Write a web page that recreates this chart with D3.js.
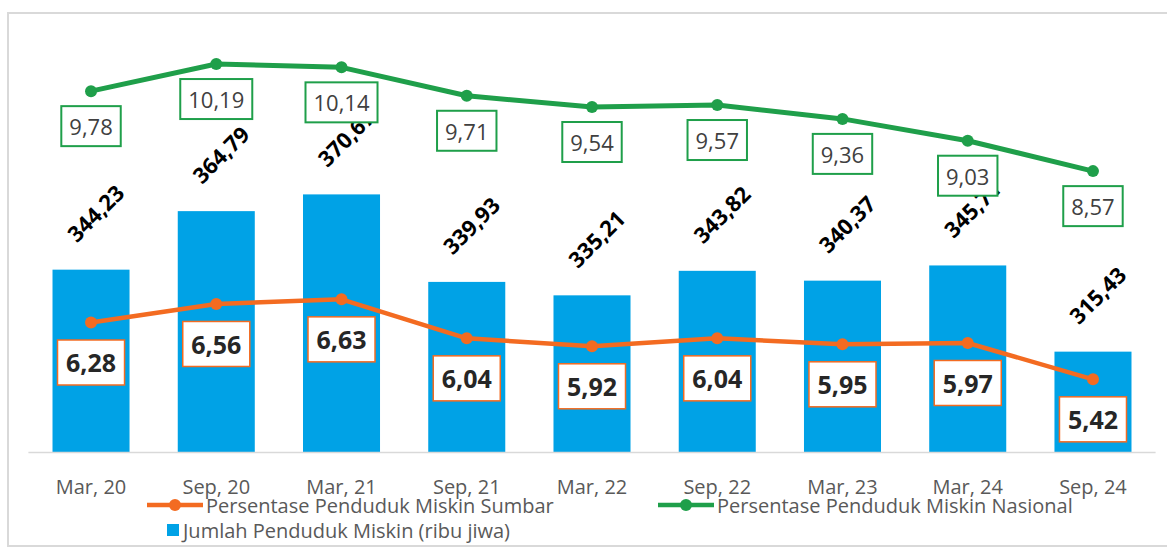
<!DOCTYPE html>
<html>
<head>
<meta charset="utf-8">
<script src="https://cdn.jsdelivr.net/npm/d3@7"></script>
<style>
    body { margin: 0; background: #fff; }
    svg { display: block; font-family: 'Open Sans', sans-serif; }
</style>
</head>
<body>
<div id="chart"></div>
<script>
var PERIODS = ['Mar, 20', 'Sep, 20', 'Mar, 21', 'Sep, 21', 'Mar, 22', 'Sep, 22', 'Mar, 23', 'Mar, 24', 'Sep, 24']
var JUMLAH = [344.23, 364.79, 370.67, 339.93, 335.21, 343.82, 340.37, 345.71, 315.43]
var SUMBAR = [6.28, 6.56, 6.63, 6.04, 5.92, 6.04, 5.95, 5.97, 5.42]
var NASIONAL = [9.78, 10.19, 10.14, 9.71, 9.54, 9.57, 9.36, 9.03, 8.57]
var LEGEND = ['Persentase Penduduk Miskin Sumbar', 'Persentase Penduduk Miskin Nasional', 'Jumlah Penduduk Miskin (ribu jiwa)']

var WIDTH = 1167
var HEIGHT = 551
var BLUE = '#00a2e6'
var ORANGE = '#f36b21'
var GREEN = '#1f9f4a'

var fmt = function (v) { return d3.format('.2f')(v).replace('.', ',') }

var svg = d3.select('#chart').append('svg')
    .attr('width', WIDTH)
    .attr('height', HEIGHT)

// frame
svg.append('rect')
    .attr('x', 8).attr('y', 13)
    .attr('width', WIDTH).attr('height', 533)
    .attr('fill', 'none')
    .attr('stroke', '#d9d9d9')
    .attr('stroke-width', 2)

var x = d3.scaleBand()
    .domain(PERIODS)
    .range([28.4, 1155.6])
    .paddingInner(0.385)
    .paddingOuter(0.1925)

var yBar = d3.scaleLinear().domain([280, 430]).range([452.5, 25.5])
var yPct = d3.scaleLinear().domain([4, 11]).range([473.2, 10.5])

var cx = function (i) { return x(PERIODS[i]) + x.bandwidth() / 2 }

// bars
svg.selectAll('.bar')
    .data(JUMLAH)
    .enter().append('rect')
    .attr('class', 'bar')
    .attr('x', function (d, i) { return x(PERIODS[i]) })
    .attr('y', function (d) { return yBar(d) })
    .attr('width', x.bandwidth())
    .attr('height', function (d) { return yBar.range()[0] - yBar(d) })
    .attr('fill', BLUE)

// baseline
svg.append('line')
    .attr('x1', x.range()[0]).attr('x2', x.range()[1])
    .attr('y1', yBar.range()[0]).attr('y2', yBar.range()[0])
    .attr('stroke', '#d9d9d9')
    .attr('stroke-width', 1.5)

// x axis labels
var xAxis = d3.axisBottom(x).tickSize(0).tickPadding(0)
var gx = svg.append('g')
    .attr('transform', 'translate(0,' + yBar.range()[0] + ')')
    .call(xAxis)
gx.select('.domain').remove()
gx.selectAll('text')
    .attr('y', 41)
    .attr('dy', 0)
    .style('font-family', "'Open Sans', sans-serif")
    .style('font-size', '20px')
    .attr('fill', '#595959')

// rotated bar value labels
svg.selectAll('.bar-label')
    .data(JUMLAH)
    .enter().append('text')
    .attr('class', 'bar-label')
    .attr('transform', function (d, i) {
        return 'translate(' + (cx(i) + 4) + ',' + (yBar(d) - 57) + ') rotate(-45)'
    })
    .attr('text-anchor', 'middle')
    .attr('dominant-baseline', 'central')
    .style('font-size', '22px')
    .style('font-weight', 'bold')
    .attr('fill', '#000')
    .text(function (d) { return fmt(d) })

var line = d3.line()
    .x(function (d, i) { return cx(i) })
    .y(function (d) { return yPct(d) })

var drawSeries = function (values, color, width, r) {
    svg.append('path')
        .datum(values)
        .attr('d', line)
        .attr('fill', 'none')
        .attr('stroke', color)
        .attr('stroke-width', width)
        .attr('stroke-linejoin', 'round')
    svg.selectAll(null)
        .data(values)
        .enter().append('circle')
        .attr('cx', function (d, i) { return cx(i) })
        .attr('cy', function (d) { return yPct(d) })
        .attr('r', r)
        .attr('fill', color)
}

var drawLabels = function (values, opts) {
    var g = svg.selectAll(null)
        .data(values)
        .enter().append('g')
        .attr('transform', function (d, i) {
            return 'translate(' + cx(i) + ',' + (yPct(d) + opts.offset) + ')'
        })
    var rect = g.append('rect')
        .attr('fill', '#fff')
        .attr('stroke', opts.color)
        .attr('stroke-width', opts.stroke)
    var txt = g.append('text')
        .attr('text-anchor', 'middle')
        .attr('dominant-baseline', 'central')
        .style('font-size', opts.size + 'px')
        .style('font-weight', opts.weight)
        .attr('fill', opts.textColor)
        .text(function (d) { return fmt(d) })
    txt.each(function (d, i) {
        var w = this.getComputedTextLength() + opts.pad * 2
        d3.select(rect.nodes()[i])
            .attr('x', -w / 2)
            .attr('y', -opts.h / 2)
            .attr('width', w)
            .attr('height', opts.h)
    })
}

drawSeries(SUMBAR, ORANGE, 4.5, 6)
drawSeries(NASIONAL, GREEN, 5, 6)

drawLabels(NASIONAL, { offset: 35, color: GREEN, stroke: 2, size: 22, weight: 'normal', textColor: '#404040', pad: 8, h: 40 })
drawLabels(SUMBAR, { offset: 40, color: ORANGE, stroke: 1.5, size: 25, weight: 'bold', textColor: '#262626', pad: 8.5, h: 45 })

// legend
var legend = svg.append('g')
    .style('font-size', '20px')
    .attr('fill', '#595959')

var legendLine = function (x0, y0, color, label) {
    legend.append('line')
        .attr('x1', x0).attr('x2', x0 + 56)
        .attr('y1', y0).attr('y2', y0)
        .attr('stroke', color)
        .attr('stroke-width', 4.5)
    legend.append('circle')
        .attr('cx', x0 + 28).attr('cy', y0)
        .attr('r', 6)
        .attr('fill', color)
    legend.append('text')
        .attr('x', x0 + 59).attr('y', y0)
        .attr('dominant-baseline', 'central')
        .text(label)
}

legendLine(147, 505, ORANGE, LEGEND[0])
legendLine(658, 505, GREEN, LEGEND[1])

legend.append('rect')
    .attr('x', 167).attr('y', 524)
    .attr('width', 12).attr('height', 12)
    .attr('fill', BLUE)
legend.append('text')
    .attr('x', 183).attr('y', 530)
    .attr('dominant-baseline', 'central')
    .text(LEGEND[2])
</script>
</body>
</html>
